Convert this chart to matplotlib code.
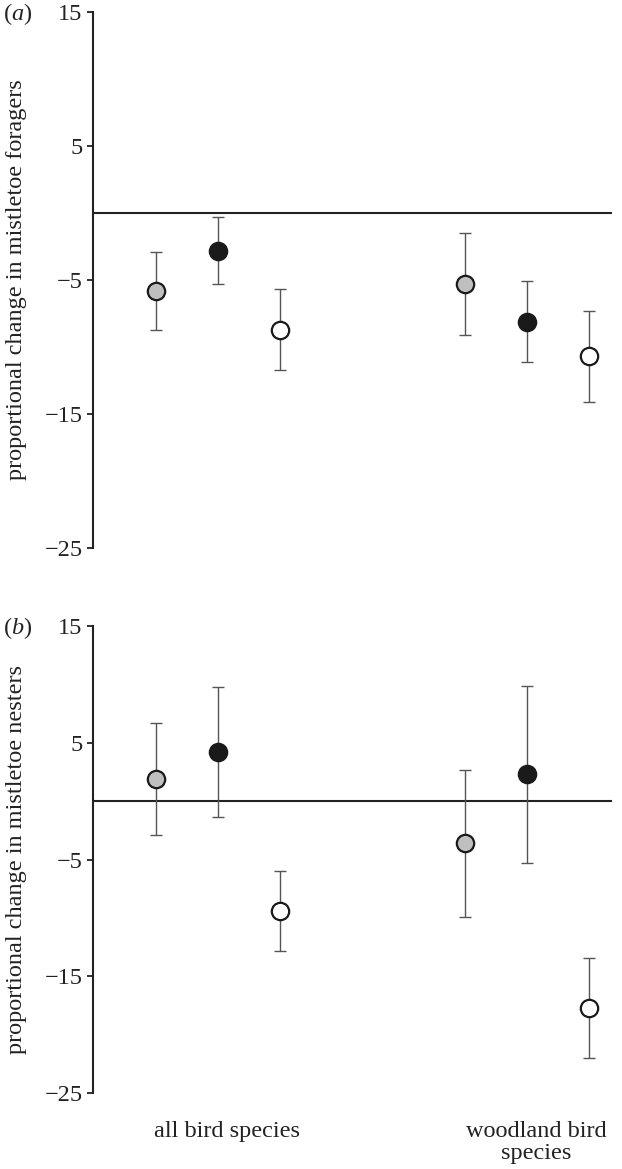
import matplotlib
matplotlib.use("Agg")
import matplotlib.pyplot as plt
import numpy as np

# data
groups = ["all bird species", "woodland bird\nspecies"]
series = ["grey", "black", "white"]

foragers_mean = {"grey": [-5.8, -5.3], "black": [-2.8, -8.1], "white": [-8.7, -10.7]}
foragers_err = {"grey": [2.9, 3.8], "black": [2.5, 3.0], "white": [3.0, 3.4]}

nesters_mean = {"grey": [1.9, -3.6], "black": [4.2, 2.3], "white": [-9.4, -17.7]}
nesters_err = {"grey": [4.8, 6.3], "black": [5.6, 7.6], "white": [3.4, 4.3]}

yticks = [15, 5, -5, -15, -25]

plt.rcParams['font.family'] = ['Liberation Serif', 'DejaVu Serif']
plt.rcParams['mathtext.fontset'] = 'custom'
plt.rcParams['mathtext.it'] = 'Liberation Serif:italic'
plt.rcParams['mathtext.rm'] = 'Liberation Serif'

fills = {"grey": "#bfbfbf", "black": "#1a1a1a", "white": "white"}
offsets = {"grey": -0.2, "black": 0.0, "white": 0.2}
fs = 17.5

fig = plt.figure(figsize=(6.22, 11.69), dpi=100)
ax1 = fig.add_axes([93/622, 1 - 548/1169, (612-93)/622, 536/1169])
ax2 = fig.add_axes([93/622, 1 - 1093/1169, (612-93)/622, 467/1169])

x = np.arange(len(groups))

def draw(ax, means, errs, ylabel):
    ax.axhline(0, color='#222222', lw=1.5, zorder=1)
    for s in series:
        ax.errorbar(x + offsets[s], means[s], yerr=errs[s], fmt='none',
                    ecolor='#555555', elinewidth=1.0, capsize=4, capthick=1.0, zorder=2)
        ax.plot(x + offsets[s], means[s], 'o', ms=12.5, mfc=fills[s],
                mec='#1a1a1a', mew=1.6, zorder=3)
    ax.set_xlim(-0.405, 1.275)
    ax.set_ylim(-25, 15)
    ax.set_yticks(yticks)
    ax.tick_params(axis='y', direction='out', length=4, width=1.3, pad=3.5,
                   labelsize=fs, colors='#222222')
    for sp in ['top', 'right', 'bottom']:
        ax.spines[sp].set_visible(False)
    ax.spines['left'].set_linewidth(1.5)
    ax.spines['left'].set_color('#222222')
    ax.set_ylabel(ylabel, fontsize=fs, color='#222222')
    ax.yaxis.set_label_coords(-0.128, 0.5)

draw(ax1, foragers_mean, foragers_err, "proportional change in mistletoe foragers")
ax1.set_xticks([])

draw(ax2, nesters_mean, nesters_err, "proportional change in mistletoe nesters")
ax2.set_xticks(x + 0.03)
ax2.set_xticklabels(groups, fontsize=fs, color='#222222', linespacing=1.05)
ax2.tick_params(axis='x', length=0, pad=20)

fig.text(3/622, 1 - 1/1169, r"($\mathit{a}$)", fontsize=fs, va='top', ha='left', color='#222222')
fig.text(3/622, 1 - 615/1169, r"($\mathit{b}$)", fontsize=fs, va='top', ha='left', color='#222222')

fig.savefig("out.png", dpi=100, facecolor='white')
